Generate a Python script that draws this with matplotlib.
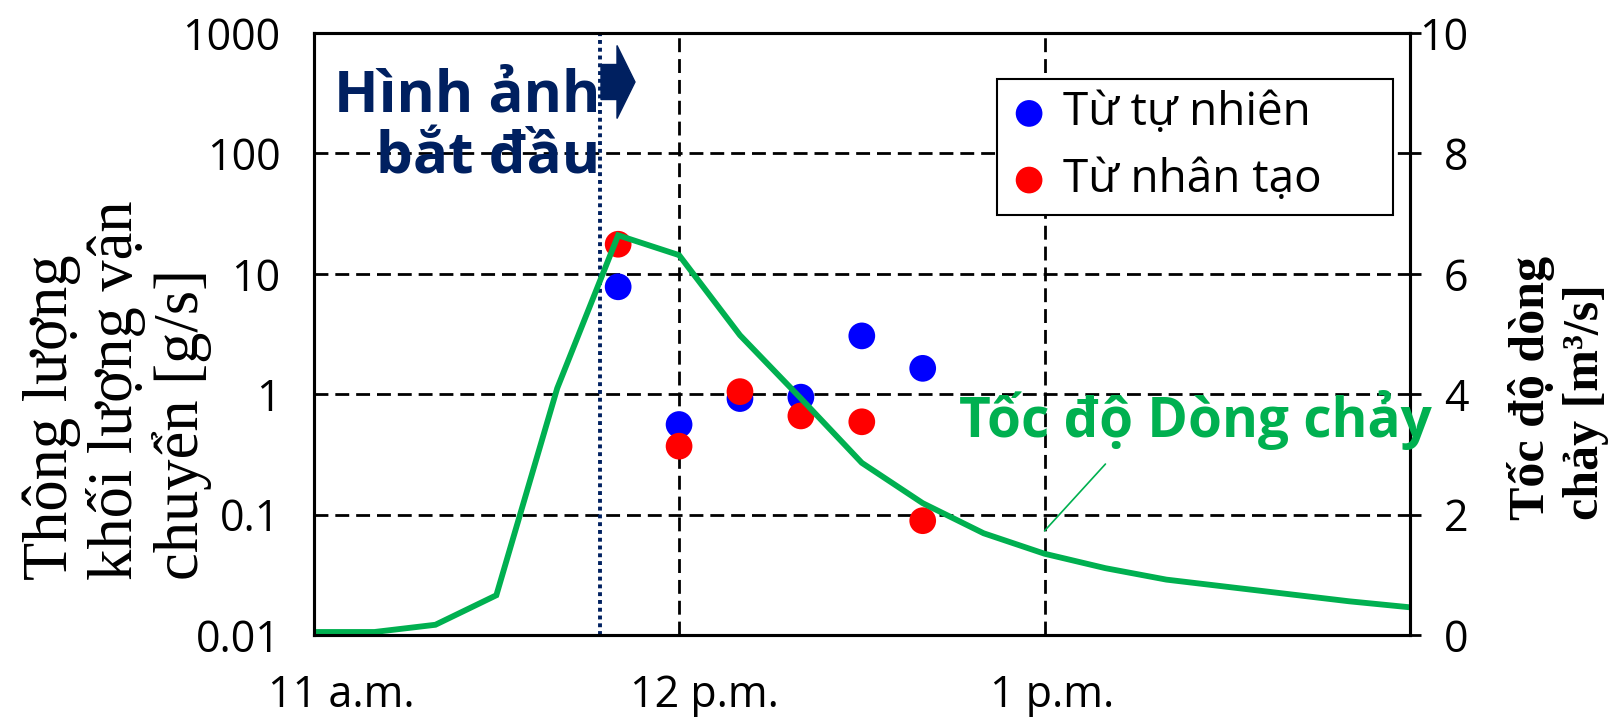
import matplotlib
matplotlib.use("Agg")
import matplotlib.pyplot as plt
import matplotlib.patches as mpatches
import matplotlib.transforms as mtransforms
from matplotlib.ticker import NullLocator
import pandas as pd

plt.rcParams['font.family'] = ['Open Sans', 'Noto Sans', 'DejaVu Sans']

# ---- data ----
flow_times = ["11:00", "11:10", "11:20", "11:30", "11:40", "11:50", "12:00",
              "12:10", "12:20", "12:30", "12:40", "12:50", "13:00", "13:10",
              "13:20", "13:30", "13:40", "13:50", "14:00"]
flow_rate = [0.05, 0.05, 0.17, 0.66, 4.10, 6.64, 6.31,
             4.98, 3.93, 2.86, 2.19, 1.69, 1.35, 1.11,
             0.92, 0.80, 0.68, 0.56, 0.46]

sample_times = ["11:50", "12:00", "12:10", "12:20", "12:30", "12:40"]
flux_natural = [7.8, 0.56, 0.92, 0.945, 3.05, 1.64]
flux_artificial = [17.6, 0.37, 1.05, 0.66, 0.59, 0.089]

start_time = "11:47"

x_ticks = ["11:00", "12:00", "13:00"]
x_tick_labels = ["11 a.m.", "12 p.m.", "1 p.m."]
left_ticks = [0.01, 0.1, 1, 10, 100, 1000]
left_tick_labels = ["0.01", "0.1", "1", "10", "100", "1000"]
right_ticks = [0, 2, 4, 6, 8, 10]

GREEN = '#00B050'
NAVY = '#002060'
W, H = 1611, 717


def t(s):
    return pd.to_datetime("2020-01-01 " + s)


fig = plt.figure(figsize=(W / 100, H / 100), dpi=100)
ax = fig.add_axes([313.6 / W, 1 - 635 / H, (1410 - 313.6) / W, (635 - 33) / H])

# scatter on log axis
ax.scatter([t(s) for s in sample_times], flux_natural, s=370, color='#0000FF',
           edgecolors='none', label="Từ tự nhiên", zorder=3)
ax.scatter([t(s) for s in sample_times], flux_artificial, s=370, color='#FF0000',
           edgecolors='none', label="Từ nhân tạo", zorder=3)
ax.axvline(t(start_time), color=NAVY, lw=2.8, linestyle=(0, (1, 1)), zorder=2)

ax.set_yscale('log')
ax.set_ylim(0.01, 1000)
ax.set_xlim(t("11:00"), t("14:00"))
ax.set_yticks(left_ticks)
ax.set_yticklabels(left_tick_labels)
ax.yaxis.set_minor_locator(NullLocator())
ax.set_xticks([t(s) for s in x_ticks])
ax.set_xticklabels(x_tick_labels)
ax.grid(True, color='black', linestyle=(0, (5, 2.5)), lw=2)
ax.set_axisbelow(True)
ax.tick_params(axis='y', length=0, pad=24, labelsize=31)
ax.tick_params(axis='x', length=0, pad=28, labelsize=31)

# the x labels in the original sit a bit right of the ticks
for lab, dx in zip(ax.get_xticklabels(), [28, 25, 8]):
    lab.set_transform(lab.get_transform() +
                      mtransforms.ScaledTranslation(dx / 100, 0, fig.dpi_scale_trans))

# flow rate on the right axis
ax2 = ax.twinx()
ax2.plot([t(s) for s in flow_times], flow_rate, color=GREEN, lw=4.2,
         solid_joinstyle='miter')
ax2.set_ylim(0, 10)
ax2.set_yticks(right_ticks)
ax2.tick_params(axis='y', direction='out', length=8, width=2, pad=34, labelsize=31)
for lab in ax2.get_yticklabels():
    lab.set_horizontalalignment('right')

for a in (ax, ax2):
    for sp in a.spines.values():
        sp.set_linewidth(2.2)
        sp.set_color('black')

ax2.text(t("12:46"), 3.29, "Tốc độ Dòng chảy", color=GREEN, fontsize=39.5,
         fontweight='bold', ha='left', va='baseline')
ax2.annotate('', xy=(t("13:00"), 1.73), xytext=(t("13:10"), 2.84),
             arrowprops=dict(arrowstyle='-', color=GREEN, lw=1.2,
                             shrinkA=0, shrinkB=0))

leg = ax.legend(loc='upper left', bbox_to_anchor=(997 / W, 1 - 204 / H, 396 / W, 125 / H),
                bbox_transform=fig.transFigure, mode='expand', fontsize=33,
                frameon=True, fancybox=False, edgecolor='black', framealpha=1,
                borderaxespad=0, borderpad=0.25, labelspacing=0.45,
                handletextpad=0.3, handlelength=0.9, scatterpoints=1)
leg.get_frame().set_linewidth(1.5)
leg.set_zorder(10)

# "image start" label with block arrow (baseline of the last line)
fig.text(600 / W, 1 - 173 / H, "Hình ảnh\nbắt đầu", color=NAVY, fontsize=42,
         fontweight='bold', ha='right', va='baseline', multialignment='right',
         linespacing=1.08)
fig.patches.append(mpatches.FancyArrow(
    601 / W, 1 - 82 / H, 34 / W, 0, width=35 / H, head_width=73 / H,
    head_length=18 / W, length_includes_head=True, color=NAVY,
    transform=fig.transFigure, figure=fig))

# axis titles
fig.text(117 / W, 1 - 390 / H, "Thông lượng\nkhối lượng vận\nchuyển [g/s]",
         rotation=90, ha='center', va='center', multialignment='left',
         family='Liberation Serif', fontsize=45, linespacing=1.12)
fig.text(1558 / W, 1 - 388 / H, "Tốc độ dòng\nchảy [m³/s]",
         rotation=90, ha='center', va='center', multialignment='left',
         family='Liberation Serif', fontweight='bold', fontsize=36,
         linespacing=1.25)

fig.savefig("out.png", dpi=100)
